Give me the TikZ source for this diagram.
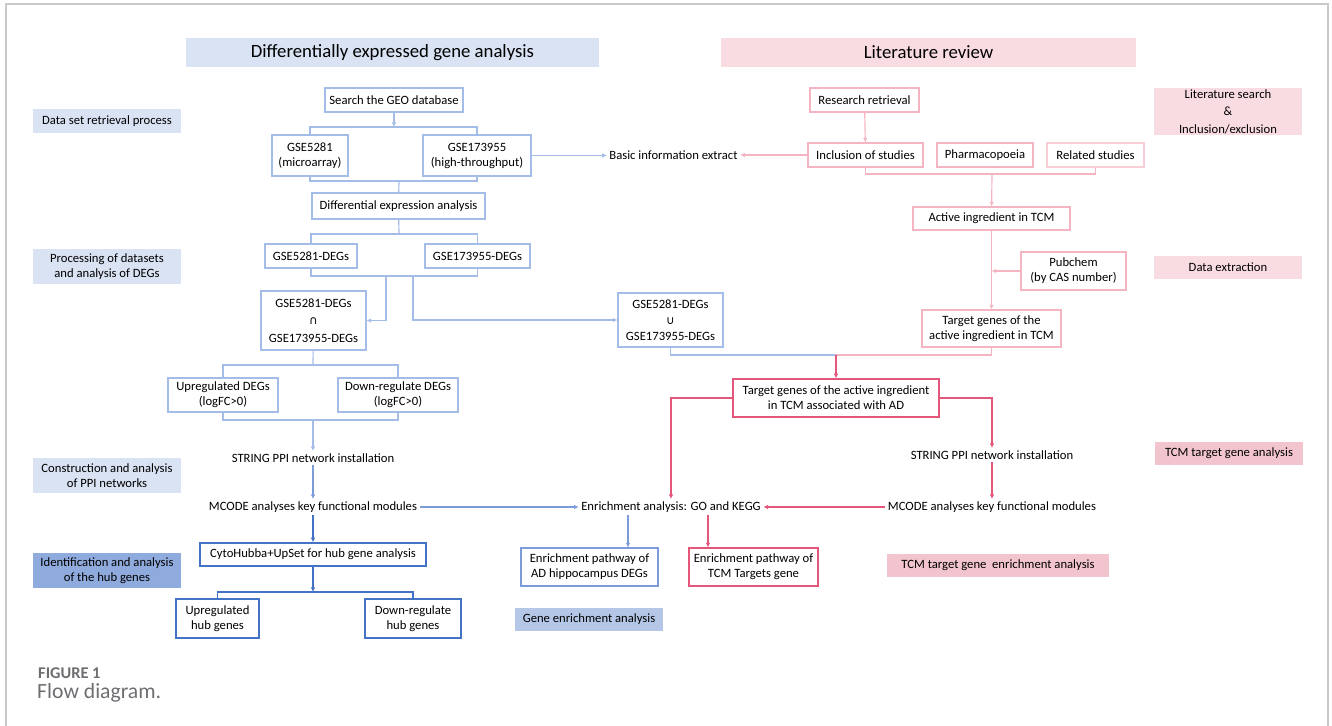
\documentclass[tikz,border=0pt]{standalone}
\usepackage{fontspec}
\setmainfont{Carlito}
\newfontfamily\symfont{DejaVu Sans}
\usetikzlibrary{arrows.meta}
\definecolor{blueL}{HTML}{A3BCE8}
\definecolor{blueM}{HTML}{7C9BDA}
\definecolor{blueD}{HTML}{4472C4}
\definecolor{pinkL}{HTML}{F4B4C1}
\definecolor{pinkP}{HTML}{F8CFD7}
\definecolor{redD}{HTML}{E4577A}
\definecolor{tagB}{HTML}{DAE3F3}
\definecolor{tagBD}{HTML}{8FAADC}
\definecolor{tagBM}{HTML}{B4C7E7}
\definecolor{tagP}{HTML}{F9DCE1}
\definecolor{tagPD}{HTML}{F2C5CE}
\definecolor{frameC}{HTML}{C9C9C9}
\definecolor{capC}{HTML}{6D6E71}
\newlength\pxu
\setlength\pxu{0.03cm}

\begin{document}
\begin{tikzpicture}
  [x=0.03cm,y=-0.03cm,
   font=\fontsize{10.8}{12.8}\selectfont,
   box/.style={draw,fill=white,inner sep=0pt,align=center,line width=0.9pt},
   bbox/.style={box,draw=blueL},
   pbox/.style={box,draw=pinkL},
   rbox/.style={box,draw=redD,line width=1.2pt},
   tag/.style={fill=tagB,inner sep=0pt,align=center},
   head/.style={inner sep=0pt,font=\fontsize{16}{19}\selectfont},
   txt/.style={inner sep=2pt},
   arr/.style={-{Latex[length=4pt,width=4pt]}},
   bl/.style={draw=blueL,line width=1pt},
   bm/.style={draw=blueM,line width=1pt},
   bd/.style={draw=blueD,line width=1.2pt},
   pl/.style={draw=pinkL,line width=1pt},
   rd/.style={draw=redD,line width=1.2pt}
  ]
  \useasboundingbox (0,0) rectangle (1332,726);
  \draw[frameC,line width=1.2pt] (6,726) -- (6,4) -- (1328,4) -- (1328,726);

  % headers
  \node[head,fill=tagB,minimum width=413\pxu,minimum height=29\pxu] (hDEG) at (392.5,52.5) {Differentially expressed gene analysis};
  \node[head,fill=tagP,minimum width=415\pxu,minimum height=29\pxu] (hLit) at (928.5,52.5) {Literature review};

  % side tags
  \node[tag,minimum width=148\pxu,minimum height=24\pxu] (tData) at (107,121) {Data set retrieval process};
  \node[tag,minimum width=148\pxu,minimum height=35\pxu] (tProc) at (107,266.5) {Processing of datasets\\and analysis of DEGs};
  \node[tag,minimum width=148\pxu,minimum height=35\pxu] (tPPI) at (107,475.5) {Construction and analysis\\of PPI networks};
  \node[tag,fill=tagBD,minimum width=148\pxu,minimum height=35\pxu] (tHub) at (107,570.5) {Identification and analysis\\of the hub genes};
  \node[tag,fill=tagBM,minimum width=148\pxu,minimum height=23\pxu] (tGene) at (589,619.5) {Gene enrichment analysis};
  \node[tag,fill=tagP,minimum width=148\pxu,minimum height=47\pxu,font=\fontsize{10.8}{15}\selectfont] (tLit) at (1228,111.5) {Literature search\\\&\\Inclusion/exclusion};
  \node[tag,fill=tagP,minimum width=148\pxu,minimum height=23\pxu] (tExt) at (1228,267.5) {Data extraction};
  \node[tag,fill=tagPD,minimum width=148\pxu,minimum height=23\pxu] (tTCM) at (1229,453.5) {TCM target gene analysis};
  \node[tag,fill=tagPD,minimum width=222\pxu,minimum height=23\pxu] (tTCMe) at (998,565.5) {TCM target gene\ \ enrichment analysis};

  % DEG branch
  \node[bbox,minimum width=138\pxu,minimum height=24\pxu] (search) at (394,100) {Search the GEO database};
  \node[bbox,minimum width=76\pxu,minimum height=41\pxu] (gse5281) at (310,155.5) {GSE5281\\(microarray)};
  \node[bbox,minimum width=108\pxu,minimum height=41\pxu] (gse173955) at (477,155.5) {GSE173955\\(high-throughput)};
  \node[bbox,minimum width=173\pxu,minimum height=26\pxu] (diff) at (398.5,206) {Differential expression analysis};
  \node[bbox,minimum width=92\pxu,minimum height=24\pxu] (degA) at (311,256) {GSE5281-DEGs};
  \node[bbox,minimum width=105\pxu,minimum height=24\pxu] (degB) at (477.5,256) {GSE173955-DEGs};
  \node[bbox,minimum width=105\pxu,minimum height=59\pxu,font=\fontsize{10.8}{15}\selectfont] (inter) at (313.5,320.5) {GSE5281-DEGs\\{\symfont\fontsize{10}{10}\selectfont ∩}\\GSE173955-DEGs};
  \node[bbox,minimum width=105\pxu,minimum height=54\pxu,font=\fontsize{10.8}{13.5}\selectfont] (union) at (670.5,320) {GSE5281-DEGs\\{\symfont\fontsize{10}{10}\selectfont ∪}\\GSE173955-DEGs};
  \node[bbox,minimum width=110\pxu,minimum height=34\pxu] (upDEG) at (223,395) {Upregulated DEGs\\(logFC>0)};
  \node[bbox,minimum width=120\pxu,minimum height=34\pxu] (downDEG) at (398,395) {Down-regulate DEGs\\(logFC>0)};
  \node[txt] (stringL) at (313,458) {STRING PPI network installation};
  \node[txt] (mcodeL) at (313,507) {MCODE analyses key functional modules};
  \node[box,draw=blueD,line width=1.2pt,minimum width=226\pxu,minimum height=23\pxu] (cyto) at (313,554.5) {CytoHubba+UpSet for hub gene analysis};
  \node[box,draw=blueD,minimum width=83\pxu,minimum height=39\pxu] (uphub) at (217.5,618.5) {Upregulated\\hub genes};
  \node[box,draw=blueD,minimum width=96\pxu,minimum height=39\pxu] (downhub) at (413,618.5) {Down-regulate\\hub genes};
  \node[txt] (basic) at (673.5,155) {Basic information extract};
  \node[txt] (enrich) at (671,507) {Enrichment analysis: GO and KEGG};
  \node[box,draw=blueM,minimum width=137\pxu,minimum height=38\pxu] (pathAD) at (589.5,567) {Enrichment pathway of\\AD hippocampus DEGs};
  \node[rbox,line width=0.9pt,minimum width=129\pxu,minimum height=38\pxu] (pathTCM) at (753.5,567) {Enrichment pathway of\\TCM Targets gene};

  % literature branch
  \node[pbox,minimum width=109\pxu,minimum height=24\pxu] (retr) at (864.5,100) {Research retrieval};
  \node[pbox,minimum width=115\pxu,minimum height=24\pxu] (incl) at (865.5,155) {Inclusion of studies};
  \node[pbox,minimum width=96\pxu,minimum height=24\pxu] (pharm) at (985,155) {Pharmacopoeia};
  \node[box,draw=pinkP,minimum width=97\pxu,minimum height=24\pxu] (related) at (1095.5,155) {Related studies};
  \node[pbox,minimum width=157\pxu,minimum height=23\pxu] (active) at (991.5,218.5) {Active ingredient in TCM};
  \node[pbox,minimum width=105\pxu,minimum height=38\pxu] (pubchem) at (1073.5,271) {Pubchem\\(by CAS number)};
  \node[pbox,minimum width=139\pxu,minimum height=37\pxu] (target) at (991.5,328.5) {Target genes of the\\active ingredient in TCM};
  \node[rbox,minimum width=206\pxu,minimum height=38\pxu] (assoc) at (836,398) {Target genes of the active ingredient\\in TCM associated with AD};
  \node[txt] (stringR) at (992,455) {STRING PPI network installation};
  \node[txt] (mcodeR) at (992,507) {MCODE analyses key functional modules};

  % junctions
  \coordinate (j1) at (394,127);
  \coordinate (j2) at (399,181);
  \coordinate (j3) at (399,234);
  \coordinate (j4) at (386,276);
  \coordinate (j5) at (413,276);
  \coordinate (j6) at (313,365);
  \coordinate (j7) at (313,420);
  \coordinate (j8) at (313,592);
  \coordinate (j9) at (992,174);
  \coordinate (j10) at (836,355);
  \coordinate (aAD) at (628,0);
  \coordinate (aTCM) at (708,0);

  % blue connectors
  \draw[bl,arr] (search) -- (j1);
  \draw[bl] (gse5281.north) |- (j1) -| (gse173955.north);
  \draw[bl] (gse5281.south) |- (j2) -| (gse173955.south);
  \draw[bl] (j2) -- (diff);
  \draw[bl] (diff) -- (j3);
  \draw[bl] (degA.north) |- (j3) -| (degB.north);
  \draw[bl] (degA.south) |- (j4) -| (degB.south);
  \draw[bl,arr] (j4) |- (inter.east);
  \draw[bl,arr] (j5) |- (union.west);
  \draw[bl] (inter) -- (j6);
  \draw[bl] (upDEG.north) |- (j6) -| (downDEG.north);
  \draw[bl] (upDEG.south) |- (j7) -| (downDEG.south);
  \draw[bl,arr] (j7) -- (stringL);
  \draw[bl,arr] (gse173955.east) -- (gse173955.east -| basic.west);
  \draw[bm,arr] (stringL) -- (mcodeL);
  \draw[bm,arr] (mcodeL) -- (enrich);
  \draw[bd,arr] (mcodeL) -- (cyto);
  \draw[bd,arr] (cyto) -- (j8);
  \draw[bd] (uphub.north) |- (j8) -| (downhub.north);
  \draw[bm,arr] (enrich.south -| aAD) -- (pathAD.north -| aAD);

  % pink and red connectors
  \draw[pl,arr] (retr) -- (incl);
  \draw[pl,arr] (incl) -- (basic);
  \draw[pl] (incl.south) |- (j9) -| (related.south);
  \draw[pl,arr] (j9) -- (active);
  \draw[pl,arr] (active) -- (target);
  \draw[pl,arr] (pubchem.west) -- (pubchem.west -| active.south);
  \draw[bl] (union.south) |- (j10);
  \draw[pl] (target.south) |- (j10);
  \draw[rd,arr] (j10) -- (assoc);
  \draw[rd,arr] (assoc.west) -| (enrich.north);
  \draw[rd,arr] (assoc.east) -| (stringR.north);
  \draw[rd,arr] (stringR) -- (mcodeR);
  \draw[rd,arr] (mcodeR) -- (enrich);
  \draw[rd,arr] (enrich.south -| aTCM) -- (pathTCM.north -| aTCM);

  % caption
  \node[anchor=base west,inner sep=0pt,text=capC,font=\fontsize{14}{16}\selectfont\bfseries] (figNo) at (38,678) {FIGURE 1};
  \node[anchor=base west,inner sep=0pt,text=capC,font=\fontsize{18.5}{20}\selectfont] (figCap) at (37,698) {Flow diagram.};
\end{tikzpicture}
\end{document}
